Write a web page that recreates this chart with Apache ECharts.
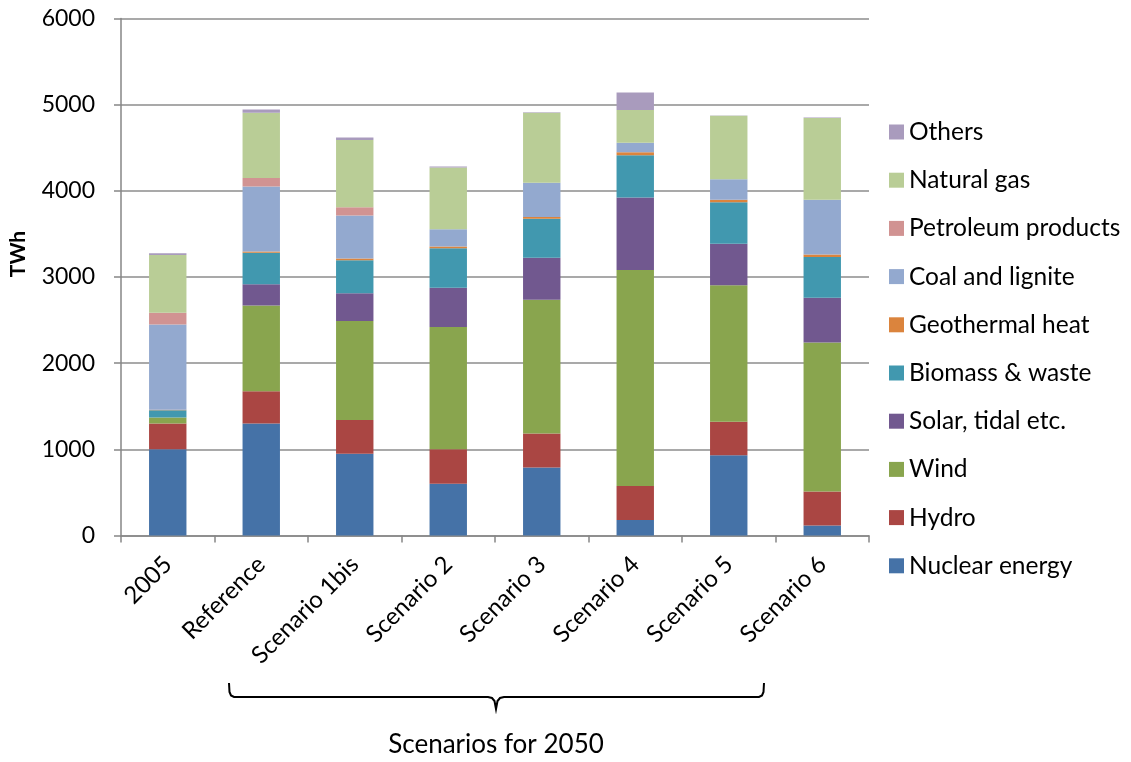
<!DOCTYPE html>
<html>
<head>
<meta charset="utf-8">
<script src="https://cdn.jsdelivr.net/npm/echarts@6/dist/echarts.min.js"></script>
<style>
  html, body { margin: 0; padding: 0; background: #ffffff; }
  #chart { width: 1131px; height: 762px; }
</style>
</head>
<body>
<div id="chart"></div>
<script>
// Electricity generation by source, 2005 and the 2050 scenarios (TWh)
const categories = ['2005', 'Reference', 'Scenario 1bis', 'Scenario 2', 'Scenario 3', 'Scenario 4', 'Scenario 5', 'Scenario 6'];

const nuclear    = [1000, 1300,  950,  600,  790,  180,  930,  115];
const hydro      = [ 300,  375,  390,  400,  395,  395,  390,  395];
const wind       = [  70,  995, 1150, 1420, 1550, 2505, 1585, 1730];
const solar      = [   0,  245,  320,  455,  487,  843,  480,  520];
const biomass    = [  85,  365,  385,  460,  453,  491,  483,  471];
const geothermal = [   5,   15,   20,   20,   20,   35,   28,   31];
const coal       = [ 990,  755,  500,  200,  398,  108,  239,  635];
const petroleum  = [ 135,  100,   95,    0,    0,    0,    0,    0];
const gas        = [ 670,  755,  780,  715,  812,  382,  735,  947];
const others     = [  20,   40,   30,   12,    8,  202,    5,    8];

const yTicks = [0, 1000, 2000, 3000, 4000, 5000, 6000];

const seriesDefs = [
  { name: 'Nuclear energy',     data: nuclear,    color: '#4572A7' },
  { name: 'Hydro',              data: hydro,      color: '#AA4643' },
  { name: 'Wind',               data: wind,       color: '#89A54E' },
  { name: 'Solar, tidal etc.',  data: solar,      color: '#71588F' },
  { name: 'Biomass & waste',    data: biomass,    color: '#4198AF' },
  { name: 'Geothermal heat',    data: geothermal, color: '#DB843D' },
  { name: 'Coal and lignite',   data: coal,       color: '#93A9CF' },
  { name: 'Petroleum products', data: petroleum,  color: '#D19392' },
  { name: 'Natural gas',        data: gas,        color: '#B9CD96' },
  { name: 'Others',             data: others,     color: '#A99BBD' }
];

const FONT = 'Lato';
const chart = echarts.init(document.getElementById('chart'), null, { renderer: 'canvas' });

// brace under the 2050 scenario labels
const bracePoints = [
  [229, 683], [229.5, 692], [231, 695.5], [234, 697], [488, 697], [492, 698], [494.5, 701], [496, 709],
  [497.5, 701], [500, 698], [504, 697], [759, 697], [762, 695.5], [763.5, 692], [764, 683]
];

const option = {
  backgroundColor: '#ffffff',
  animation: false,
  textStyle: { fontFamily: FONT },
  grid: { left: 121, right: 262, top: 18.5, bottom: 226.5, containLabel: false },
  legend: {
    orient: 'vertical',
    left: 889,
    top: 119.5,
    padding: 0,
    icon: 'rect',
    itemWidth: 15,
    itemHeight: 15,
    itemGap: 23.2,
    data: seriesDefs.map(s => s.name).reverse(),
    textStyle: { fontFamily: FONT, fontSize: 24.5, color: '#000', lineHeight: 24 }
  },
  xAxis: {
    type: 'category',
    data: categories,
    axisLine: { lineStyle: { color: '#868686', width: 1.5 } },
    axisTick: { show: true, length: 7, alignWithLabel: false, lineStyle: { color: '#868686', width: 1.5 } },
    axisLabel: { rotate: 45, margin: 25, fontFamily: FONT, fontSize: 24, color: '#000', interval: 0 }
  },
  yAxis: {
    type: 'value',
    min: yTicks[0],
    max: yTicks[yTicks.length - 1],
    interval: 1000,
    axisLine: { show: true, lineStyle: { color: '#868686', width: 1.5 } },
    axisTick: { show: true, length: 7, lineStyle: { color: '#868686', width: 1.5 } },
    axisLabel: { margin: 26, fontFamily: FONT, fontSize: 23, color: '#000', formatter: v => String(v) },
    splitLine: { lineStyle: { color: '#8c8c8c', width: 1.5 } }
  },
  graphic: [
    {
      type: 'text',
      x: 18, y: 254,
      rotation: Math.PI / 2,
      style: { text: 'TWh', fontFamily: FONT, fontSize: 21, fontWeight: 'bold', fill: '#000', align: 'center', verticalAlign: 'middle' }
    },
    {
      type: 'polyline',
      shape: { points: bracePoints },
      style: { fill: null, stroke: '#000', lineWidth: 2 }
    },
    {
      type: 'text',
      x: 496, y: 745,
      style: { text: 'Scenarios for 2050', fontFamily: FONT, fontSize: 26, fill: '#000', align: 'center', verticalAlign: 'middle' }
    }
  ],
  series: seriesDefs.map(s => ({
    name: s.name,
    type: 'bar',
    stack: 'total',
    barWidth: '40%',
    data: s.data,
    itemStyle: { color: s.color }
  }))
};

chart.setOption(option);
</script>
</body>
</html>
